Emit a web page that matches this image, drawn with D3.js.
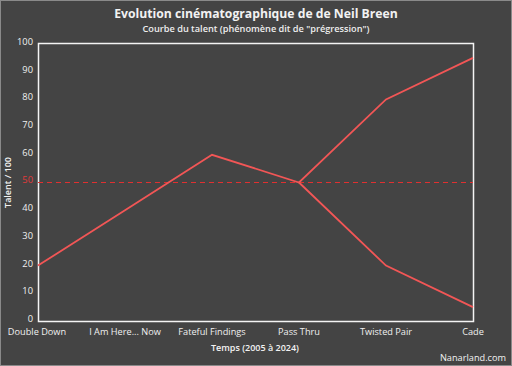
<!DOCTYPE html>
<html>
<head>
<meta charset="utf-8">
<script src="https://cdn.jsdelivr.net/npm/d3@7"></script>
<style>
  body { margin: 0; background: #444; }
  svg { display: block; font-family: "Open Sans", sans-serif; }
</style>
</head>
<body>
<div id="chart"></div>
<script>
const films = ["Double Down", "I Am Here... Now", "Fateful Findings", "Pass Thru", "Twisted Pair", "Cade"];
const progression = [20, 40, 60, 50, 80, 95];
const branche = [null, null, null, 50, 20, 5];
const yTicks = [0, 10, 20, 30, 40, 50, 60, 70, 80, 90, 100];
const seuil = 50;

const width = 512, height = 366;
const margin = { top: 44, right: 39, bottom: 45, left: 38 };

const svg = d3.select("#chart").append("svg")
    .attr("width", width)
    .attr("height", height);

svg.append("rect")
    .attr("x", 0.5).attr("y", 0.5)
    .attr("width", width - 1).attr("height", height - 1)
    .attr("fill", "#444")
    .attr("stroke", "#8a8a8a");

const x = d3.scalePoint()
    .domain(films)
    .range([margin.left, width - margin.right]);

const y = d3.scaleLinear()
    .domain([0, 100])
    .range([height - margin.bottom, margin.top]);

// titles
svg.append("text")
    .attr("x", width / 2).attr("y", 18)
    .attr("text-anchor", "middle")
    .attr("fill", "#f2f2f2")
    .attr("font-size", 12.2)
    .attr("font-weight", 700)
    .text("Evolution cinématographique de de Neil Breen");

svg.append("text")
    .attr("x", width / 2).attr("y", 32)
    .attr("text-anchor", "middle")
    .attr("fill", "#eeeeee")
    .attr("font-size", 9.2)
    .attr("font-weight", 600)
    .text("Courbe du talent (phénomène dit de \"prégression\")");

// y ticks
svg.append("g")
    .attr("font-size", 9.3)
    .attr("text-anchor", "end")
    .selectAll("text")
    .data(yTicks)
    .join("text")
    .attr("x", margin.left - 5)
    .attr("y", d => y(d))
    .attr("dy", "0.1em")
    .attr("fill", d => d === seuil ? "#e03a3a" : "#f0f0f0")
    .text(d => d);

// x labels
svg.append("g")
    .attr("font-size", 9.2)
    .attr("text-anchor", "middle")
    .selectAll("text")
    .data(films)
    .join("text")
    .attr("x", (d, i) => i === 0 ? x(d) - 1 : x(d))
    .attr("y", height - margin.bottom + 14)
    .attr("fill", "#f0f0f0")
    .text(d => d);

// axis titles
svg.append("text")
    .attr("x", width / 2 - 1).attr("y", 351)
    .attr("text-anchor", "middle")
    .attr("fill", "#f2f2f2")
    .attr("font-size", 9)
    .attr("font-weight", 600)
    .text("Temps (2005 à 2024)");

svg.append("text")
    .attr("transform", `translate(11, ${y(50)}) rotate(-90)`)
    .attr("text-anchor", "middle")
    .attr("fill", "#f2f2f2")
    .attr("font-size", 9)
    .attr("font-weight", 600)
    .text("Talent / 100");

svg.append("text")
    .attr("x", width - 6).attr("y", 361)
    .attr("text-anchor", "end")
    .attr("fill", "#f2f2f2")
    .attr("font-size", 9.2)
    .text("Nanarland.com");

// frame
svg.append("rect")
    .attr("x", margin.left + 0.5)
    .attr("y", margin.top - 0.5)
    .attr("width", width - margin.left - margin.right)
    .attr("height", height - margin.top - margin.bottom + 1)
    .attr("fill", "none")
    .attr("stroke", "#f4f4f4")
    .attr("stroke-width", 1.5);

// threshold line
svg.append("line")
    .attr("x1", margin.left).attr("x2", width - margin.right)
    .attr("y1", y(seuil)).attr("y2", y(seuil))
    .attr("stroke", "#e03030")
    .attr("stroke-width", 1)
    .attr("stroke-dasharray", "5,4");

const line = d3.line()
    .defined(d => d[1] !== null)
    .x(d => x(d[0]))
    .y(d => y(d[1]));

[progression, branche].forEach(serie => {
    svg.append("path")
        .datum(films.map((f, i) => [f, serie[i]]))
        .attr("fill", "none")
        .attr("stroke", "#f25656")
        .attr("stroke-width", 1.8)
        .attr("d", line);
});
</script>
</body>
</html>
